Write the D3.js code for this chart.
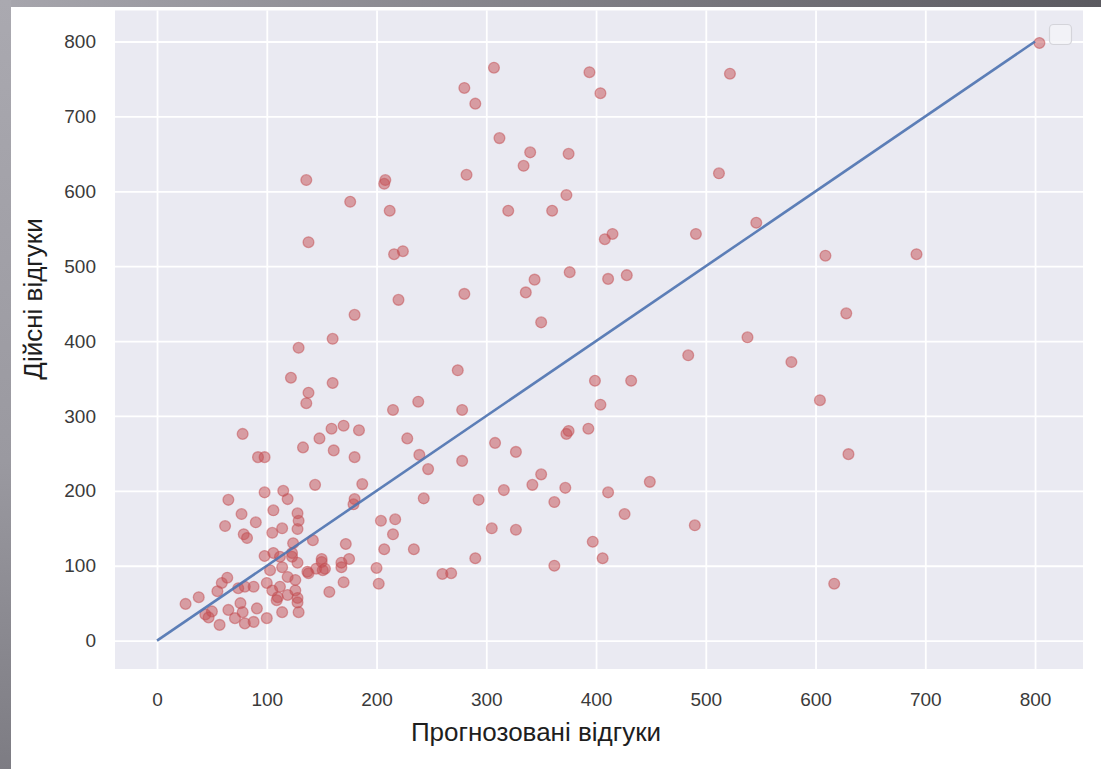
<!DOCTYPE html>
<html>
<head>
<meta charset="utf-8">
<script src="https://cdn.jsdelivr.net/npm/d3@7"></script>
<style>
  html, body { margin: 0; padding: 0; background: #ffffff; }
  svg { display: block; }
  text { font-family: "Liberation Sans", Arial, "DejaVu Sans", sans-serif; }
</style>
</head>
<body>
<svg id="chart" width="1101" height="769"></svg>
<script>
// Predicted vs actual responses (one entry per observation)
const predicted = [
  804, 307, 394, 522, 280, 404, 290, 312, 340, 375, 334, 512, 282, 136, 208, 207, 373, 176, 212, 320,
  360, 491, 546, 415, 408, 138, 224, 216, 692, 609, 376, 428, 411, 344, 336, 280, 220, 628, 180, 350,
  538, 160, 129, 484, 578, 274, 122, 399, 432, 160, 138, 604, 238, 136, 404, 215, 278, 375, 373, 393,
  170, 159, 184, 78, 228, 148, 133, 161, 308, 327, 630, 180, 92, 98, 278, 239, 247, 350, 449, 342,
  372, 411, 316, 293, 243, 362, 144, 187, 426, 217, 215, 305, 327, 490, 397, 406, 234, 290, 362, 260,
  268, 617, 204, 207, 172, 175, 168, 168, 200, 170, 202, 157, 180, 179, 115, 119, 98, 65, 128, 129,
  128, 114, 106, 77, 90, 62, 79, 82, 105, 142, 150, 153, 145, 138, 124, 98, 106, 112, 123, 128,
  103, 114, 119, 126, 64, 59, 55, 80, 88, 74, 100, 105, 112, 110, 126, 128, 119, 26, 38, 44,
  50, 47, 57, 65, 71, 76, 78, 88, 91, 100, 114, 109, 128, 137, 151, 150, 80, 123, 129
];
const actual = [
  798, 765, 759, 757, 738, 731, 717, 671, 652, 650, 634, 624, 622, 615, 615, 610, 595, 586, 574, 574,
  574, 543, 558, 543, 536, 532, 520, 516, 516, 514, 492, 488, 483, 482, 465, 463, 455, 437, 435, 425,
  405, 403, 391, 381, 372, 361, 351, 347, 347, 344, 331, 321, 319, 317, 315, 308, 308, 280, 276, 283,
  287, 283, 281, 276, 270, 270, 258, 254, 264, 252, 249, 245, 245, 245, 240, 248, 229, 222, 212, 208,
  204, 198, 201, 188, 190, 185, 208, 209, 169, 162, 142, 150, 148, 154, 132, 110, 122, 110, 100, 89,
  90, 76, 160, 122, 129, 109, 104, 98, 97, 78, 76, 65, 189, 182, 200, 189, 198, 188, 170, 160,
  149, 150, 174, 169, 158, 153, 142, 137, 144, 134, 109, 96, 96, 90, 130, 113, 117, 112, 112, 104,
  94, 98, 85, 81, 84, 77, 66, 72, 72, 70, 77, 67, 72, 58, 67, 57, 61, 49, 58, 35,
  39, 31, 21, 41, 30, 50, 38, 25, 43, 30, 38, 54, 51, 92, 94, 105, 23, 117, 38
];
const points = predicted.map((p, i) => ({ p, a: actual[i] }));

// Reference line y = x
const identity = [0, 800];

const xTicks = [0, 100, 200, 300, 400, 500, 600, 700, 800];
const yTicks = [0, 100, 200, 300, 400, 500, 600, 700, 800];

const xLabel = "Прогнозовані відгуки";
const yLabel = "Дійсні відгуки";

const svg = d3.select("#chart");
const W = 1101, H = 769;

// Plot panel
const panel = { left: 115, right: 1083, top: 10.5, bottom: 669 };

const x = d3.scaleLinear().domain([-38.3, 843.7]).range([panel.left, panel.right]);
const y = d3.scaleLinear().domain([-37.9, 841.4]).range([panel.bottom, panel.top]);

// Dark window frame along top and left edges
const defs = svg.append("defs");
const gTop = defs.append("linearGradient").attr("id", "frameTop").attr("x1", "0").attr("x2", "1").attr("y1", "0").attr("y2", "0");
gTop.append("stop").attr("offset", "0").attr("stop-color", "#a7a6ad");
gTop.append("stop").attr("offset", "1").attr("stop-color", "#5b5a60");
const gLeft = defs.append("linearGradient").attr("id", "frameLeft").attr("x1", "0").attr("x2", "0").attr("y1", "0").attr("y2", "1");
gLeft.append("stop").attr("offset", "0").attr("stop-color", "#aaa9b0");
gLeft.append("stop").attr("offset", "0.6").attr("stop-color", "#9a99a0");
gLeft.append("stop").attr("offset", "1").attr("stop-color", "#7d7c83");

svg.append("rect").attr("x", 0).attr("y", 0).attr("width", W).attr("height", H).attr("fill", "#ffffff");

svg.append("rect")
  .attr("x", panel.left).attr("y", panel.top)
  .attr("width", panel.right - panel.left).attr("height", panel.bottom - panel.top)
  .attr("fill", "#eaeaf2");

// Grid lines via axes with full-length ticks
const gridX = svg.append("g")
  .attr("transform", `translate(0,${panel.bottom})`)
  .call(d3.axisBottom(x).tickValues(xTicks).tickSize(-(panel.bottom - panel.top)).tickFormat(""));
gridX.select(".domain").remove();
gridX.selectAll("line").attr("stroke", "#ffffff").attr("stroke-width", 1.8);

const gridY = svg.append("g")
  .attr("transform", `translate(${panel.left},0)`)
  .call(d3.axisLeft(y).tickValues(yTicks).tickSize(-(panel.right - panel.left)).tickFormat(""));
gridY.select(".domain").remove();
gridY.selectAll("line").attr("stroke", "#ffffff").attr("stroke-width", 1.8);

// Tick labels
const xAxis = svg.append("g")
  .attr("transform", `translate(0,${panel.bottom})`)
  .call(d3.axisBottom(x).tickValues(xTicks).tickSize(0).tickPadding(24).tickFormat(d3.format("d")));
xAxis.select(".domain").remove();
xAxis.selectAll("text")
  .attr("font-size", 19).attr("fill", "#3a3a3a")
  .style("font-family", '"Liberation Sans", Arial, sans-serif');

const yAxis = svg.append("g")
  .attr("transform", `translate(${panel.left},0)`)
  .call(d3.axisLeft(y).tickValues(yTicks).tickSize(0).tickPadding(19).tickFormat(d3.format("d")));
yAxis.select(".domain").remove();
yAxis.selectAll("text")
  .attr("font-size", 19).attr("fill", "#3a3a3a")
  .style("font-family", '"Liberation Sans", Arial, sans-serif');

// Scatter of observations
svg.append("g")
  .selectAll("circle")
  .data(points)
  .join("circle")
  .attr("cx", d => x(d.p))
  .attr("cy", d => y(d.a))
  .attr("r", 5.4)
  .attr("fill", "#c44e52")
  .attr("fill-opacity", 0.5)
  .attr("stroke", "#c44e52")
  .attr("stroke-opacity", 0.5)
  .attr("stroke-width", 1.3);

// Identity line
svg.append("path")
  .datum(identity)
  .attr("d", d3.line().x(d => x(d)).y(d => y(d)))
  .attr("fill", "none")
  .attr("stroke", "#4c72b0")
  .attr("stroke-width", 2.6)
  .attr("stroke-opacity", 0.9);

// Empty legend frame
svg.append("rect")
  .attr("x", 1049.5).attr("y", 24.5).attr("width", 22).attr("height", 20)
  .attr("rx", 4).attr("ry", 4)
  .attr("fill", "#f4f4f8").attr("fill-opacity", 0.8)
  .attr("stroke", "#d4d4da").attr("stroke-width", 1.2);

// Axis titles
svg.append("text")
  .attr("x", 536).attr("y", 741)
  .attr("text-anchor", "middle")
  .attr("font-size", 26).attr("fill", "#1e1e1e")
  .text(xLabel);

svg.append("text")
  .attr("transform", "translate(42,299) rotate(-90)")
  .attr("text-anchor", "middle")
  .attr("font-size", 26).attr("fill", "#1e1e1e")
  .text(yLabel);

// Window frame strips
svg.append("rect").attr("x", 0).attr("y", 0).attr("width", W).attr("height", 7).attr("fill", "url(#frameTop)");
svg.append("rect").attr("x", 0).attr("y", 0).attr("width", 11).attr("height", H).attr("fill", "url(#frameLeft)");
</script>
</body>
</html>
